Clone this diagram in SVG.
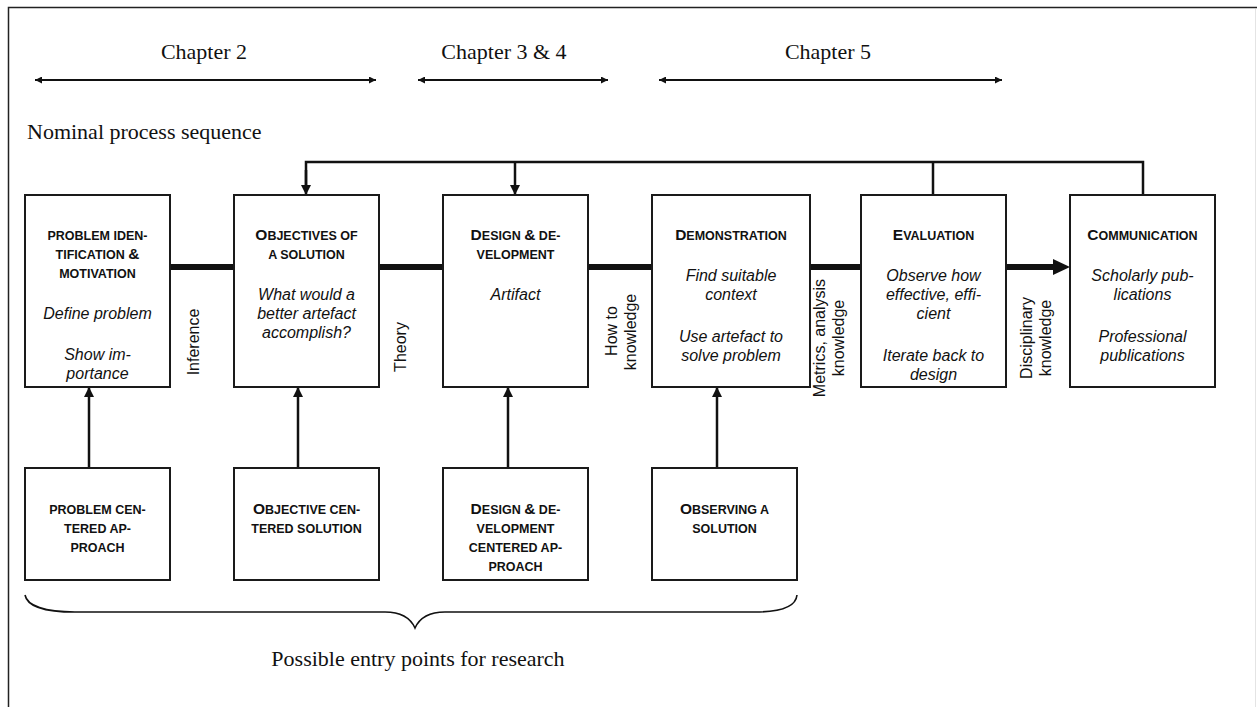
<svg xmlns="http://www.w3.org/2000/svg" width="1257" height="707" viewBox="0 0 1257 707">
<defs>
<style>
.box{fill:#fff;stroke:#1a1a1a;stroke-width:2}
.ser{font-family:"Liberation Serif","Times New Roman",serif;font-size:22px;fill:#111}
.t{font-family:"Liberation Sans",Arial,sans-serif;font-weight:bold;font-size:12.5px;fill:#111;text-anchor:middle}
.big{font-size:15.5px}
.it{font-family:"Liberation Sans",Arial,sans-serif;font-style:italic;font-size:16px;fill:#111;text-anchor:middle}
.lab{font-family:"Liberation Sans",Arial,sans-serif;font-size:16px;fill:#111;text-anchor:middle}
.ln{fill:none;stroke:#111}
</style>
<marker id="ah" viewBox="0 0 10 10" refX="10" refY="5" markerWidth="10" markerHeight="10" markerUnits="userSpaceOnUse" orient="auto-start-reverse">
<path d="M0,0 L10,5 L0,10 z" fill="#111"/>
</marker>
<marker id="ahs" viewBox="0 0 10 10" refX="10" refY="5" markerWidth="8" markerHeight="7" markerUnits="userSpaceOnUse" orient="auto-start-reverse">
<path d="M0,0 L10,5 L0,10 z" fill="#111"/>
</marker>
</defs>
<rect x="0" y="0" width="1257" height="707" fill="#fff"/>
<!-- frame -->
<path d="M8.5,707 V7.5 H1257" fill="none" stroke="#222" stroke-width="1.5"/>
<path d="M1255.5,9 V707" fill="none" stroke="#e4e4e4" stroke-width="1"/>

<!-- chapter headings -->
<g id="chapters">
<text class="ser" x="204" y="59" text-anchor="middle" font-size="23">Chapter 2</text>
<text class="ser" x="504" y="59" text-anchor="middle" font-size="23">Chapter 3 &amp; 4</text>
<text class="ser" x="828" y="59" text-anchor="middle" font-size="23">Chapter 5</text>
<path class="ln" d="M35,80 H376" stroke-width="2" marker-start="url(#ahs)" marker-end="url(#ahs)"/>
<path class="ln" d="M418,80 H608" stroke-width="2" marker-start="url(#ahs)" marker-end="url(#ahs)"/>
<path class="ln" d="M659,80 H1002" stroke-width="2" marker-start="url(#ahs)" marker-end="url(#ahs)"/>
<text class="ser" x="27" y="139">Nominal process sequence</text>
</g>

<!-- connectors -->
<g id="connectors">
<path class="ln" d="M170,267 H234 M379,267 H443 M588,267 H652 M810,267 H861" stroke-width="6"/>
<path class="ln" d="M1006,267 H1055" stroke-width="6"/>
<path d="M1053,259 L1070,267 L1053,275 z" fill="#111"/>
<path class="ln" d="M306,186 V162 H1143 V195 M933,162 V195" stroke-width="2.5"/>
<path class="ln" d="M306,170 V195" stroke-width="2.5" marker-end="url(#ah)"/>
<path class="ln" d="M515,162 V195" stroke-width="2.5" marker-end="url(#ah)"/>
<path class="ln" d="M89,468 V387" stroke-width="2.5" marker-end="url(#ah)"/>
<path class="ln" d="M298,468 V387" stroke-width="2.5" marker-end="url(#ah)"/>
<path class="ln" d="M508,468 V387" stroke-width="2.5" marker-end="url(#ah)"/>
<path class="ln" d="M717,468 V387" stroke-width="2.5" marker-end="url(#ah)"/>
</g>

<!-- flow labels -->
<g id="flow-labels">
<text class="lab" transform="translate(199,342) rotate(-90)">Inference</text>
<text class="lab" transform="translate(406,347) rotate(-90)">Theory</text>
<text class="lab" transform="translate(617,331) rotate(-90)">How to</text>
<text class="lab" transform="translate(636,332) rotate(-90)">knowledge</text>
<text class="lab" transform="translate(825,338) rotate(-90)">Metrics, analysis</text>
<text class="lab" transform="translate(844,338) rotate(-90)">knowledge</text>
<text class="lab" transform="translate(1032,338) rotate(-90)">Disciplinary</text>
<text class="lab" transform="translate(1051,338) rotate(-90)">knowledge</text>
</g>

<!-- top row -->
<g id="problem-identification">
<rect class="box" x="25" y="195" width="145" height="192"/>
<text class="t" x="97.5" y="240">PROBLEM IDEN-</text>
<text class="t" x="97.5" y="259">TIFICATION <tspan class="big">&amp;</tspan></text>
<text class="t" x="97.5" y="278">MOTIVATION</text>
<text class="it" x="97.5" y="319">Define problem</text>
<text class="it" x="97.5" y="360">Show im-</text>
<text class="it" x="97.5" y="379">portance</text>
</g>
<g id="objectives">
<rect class="box" x="234" y="195" width="145" height="192"/>
<text class="t" x="306.5" y="240"><tspan class="big">O</tspan>BJECTIVES OF</text>
<text class="t" x="306.5" y="259">A SOLUTION</text>
<text class="it" x="306.5" y="300">What would a</text>
<text class="it" x="306.5" y="319">better artefact</text>
<text class="it" x="306.5" y="338">accomplish?</text>
</g>
<g id="design-development">
<rect class="box" x="443" y="195" width="145" height="192"/>
<text class="t" x="515.5" y="240"><tspan class="big">D</tspan>ESIGN <tspan class="big">&amp;</tspan> DE-</text>
<text class="t" x="515.5" y="259">VELOPMENT</text>
<text class="it" x="515.5" y="300">Artifact</text>
</g>
<g id="demonstration">
<rect class="box" x="652" y="195" width="158" height="192"/>
<text class="t" x="731" y="240"><tspan class="big">D</tspan>EMONSTRATION</text>
<text class="it" x="731" y="281">Find suitable</text>
<text class="it" x="731" y="300">context</text>
<text class="it" x="731" y="342">Use artefact to</text>
<text class="it" x="731" y="361">solve problem</text>
</g>
<g id="evaluation">
<rect class="box" x="861" y="195" width="145" height="192"/>
<text class="t" x="933.5" y="240"><tspan class="big">E</tspan>VALUATION</text>
<text class="it" x="933.5" y="281">Observe how</text>
<text class="it" x="933.5" y="300">effective, effi-</text>
<text class="it" x="933.5" y="319">cient</text>
<text class="it" x="933.5" y="361">Iterate back to</text>
<text class="it" x="933.5" y="380">design</text>
</g>
<g id="communication">
<rect class="box" x="1070" y="195" width="145" height="192"/>
<text class="t" x="1142.5" y="240"><tspan class="big">C</tspan>OMMUNICATION</text>
<text class="it" x="1142.5" y="281">Scholarly pub-</text>
<text class="it" x="1142.5" y="300">lications</text>
<text class="it" x="1142.5" y="342">Professional</text>
<text class="it" x="1142.5" y="361">publications</text>
</g>

<!-- bottom row -->
<g id="problem-centered">
<rect class="box" x="25" y="468" width="145" height="112"/>
<text class="t" x="97.5" y="514">PROBLEM CEN-</text>
<text class="t" x="97.5" y="533">TERED AP-</text>
<text class="t" x="97.5" y="552">PROACH</text>
</g>
<g id="objective-centered">
<rect class="box" x="234" y="468" width="145" height="112"/>
<text class="t" x="306.5" y="514"><tspan class="big">O</tspan>BJECTIVE CEN-</text>
<text class="t" x="306.5" y="533">TERED SOLUTION</text>
</g>
<g id="design-centered">
<rect class="box" x="443" y="468" width="145" height="112"/>
<text class="t" x="515.5" y="514"><tspan class="big">D</tspan>ESIGN <tspan class="big">&amp;</tspan> DE-</text>
<text class="t" x="515.5" y="533">VELOPMENT</text>
<text class="t" x="515.5" y="552">CENTERED AP-</text>
<text class="t" x="515.5" y="571">PROACH</text>
</g>
<g id="observing">
<rect class="box" x="652" y="468" width="145" height="112"/>
<text class="t" x="724.5" y="514"><tspan class="big">O</tspan>BSERVING A</text>
<text class="t" x="724.5" y="533">SOLUTION</text>
</g>

<!-- brace -->
<g id="entry-points">
<path class="ln" stroke-width="1.6" d="M25,595 C27,606 45,612 75,612 L385,612 C400,612 410,617 415,628 C420,617 430,612 445,612 L755,612 C782,612 796,606 797,595"/>
<text class="ser" x="418" y="666" text-anchor="middle">Possible entry points for research</text>
</g>
</svg>
